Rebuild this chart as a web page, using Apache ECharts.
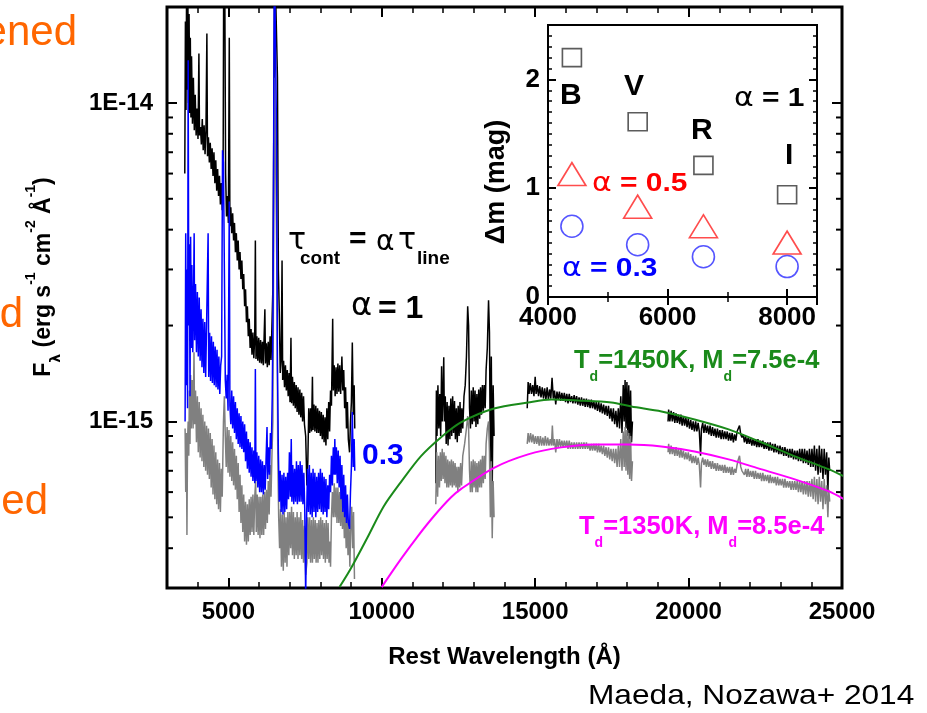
<!DOCTYPE html>
<html>
<head>
<meta charset="utf-8">
<script src="https://cdn.jsdelivr.net/npm/echarts@6/dist/echarts.min.js"></script>
<style>
  html, body { margin: 0; padding: 0; background: #fff; }
  #chart { width: 927px; height: 713px; }
</style>
</head>
<body>
<div id="chart"></div>
<script>
// wavelength in Angstrom, flux in units of 1e-15 erg s^-1 cm^-2 A^-1
const xMin = 3000, xMax = 25000
const yMin = 0.3, yMax = 20

// alpha = 1 (black)
const blackOptical = [
  [3580,6.0],[3600,18],[3620,9.5],[3640,25],[3660,11],[3680,22],[3700,10],[3720,19],[3740,9.3],[3760,16],
  [3780,9.0],[3800,14],[3830,8.6],[3860,12],[3890,8.2],[3920,10.6],[3950,7.9],[3980,9.6],[4010,7.7],[4040,14.3],
  [4060,7.9],[4090,8.4],[4120,7.4],[4150,8.9],[4180,7.1],[4210,8.5],[4240,6.9],[4270,8.2],[4300,16.5],[4320,6.8],
  [4350,7.8],[4380,6.5],[4410,7.5],[4440,6.2],[4470,7.2],[4500,5.9],[4530,7.0],[4560,5.6],[4590,6.6],[4620,5.3],
  [4650,6.2],[4680,5.1],[4710,5.9],[4740,4.8],[4770,5.6],[4800,4.6],[4830,6.5],[4850,30],[4880,28],[4910,6.0],
  [4940,4.4],[4970,5.1],[5000,4.2],[5030,16],[5050,4.1],[5080,4.7],[5110,3.9],[5140,4.5],[5170,3.7],[5200,4.2],
  [5230,3.4],[5260,3.9],[5290,3.2],[5320,3.7],[5350,3.0],[5380,3.4],[5410,2.8],[5440,3.2],[5470,2.6],[5500,2.9],
  [5530,2.3],[5560,2.6],[5590,2.05],[5620,2.3],[5650,1.85],[5680,2.1],[5710,1.7],[5740,1.95],[5770,1.62],[5800,1.9],
  [5830,1.58],[5860,1.85],[5880,3.7],[5900,1.57],[5930,1.85],[5960,1.55],[5990,1.83],[6020,1.53],[6050,1.8],[6080,1.52],
  [6110,1.78],[6140,1.5],[6190,2.25],[6210,1.52],[6240,1.76],[6270,1.48],[6300,1.78],[6330,1.5],[6360,1.85],[6390,1.56],
  [6420,2.0],[6450,2.6],[6480,8],[6510,30],[6560,30],[6600,12],[6630,3.0],[6660,2.2],[6690,1.42],[6720,1.55],
  [6750,3.2],[6770,1.35],[6800,1.55],[6830,1.28],[6860,1.5],[6890,1.25],[6920,1.45],[6950,1.2],[6980,1.42],[7010,1.15],
  [7040,1.83],[7060,1.14],[7090,1.38],[7120,1.12],[7150,1.33],[7180,1.1],[7210,1.3],[7240,1.07],[7270,1.28],[7300,1.05],
  [7330,1.26],[7360,1.03],[7390,1.23],[7420,1.0],[7450,1.2],[7480,0.98],[7520,0.9],[7560,0.63],[7590,0.75],[7620,1.1],
  [7650,0.92],[7680,1.1],[7710,0.93],[7740,1.38],[7760,0.94],[7790,1.13],[7820,0.93],[7850,1.12],[7880,0.92],[7910,1.1],
  [7940,0.92],[7970,1.08],[8000,0.9],[8030,1.07],[8060,0.88],[8090,1.05],[8120,0.86],[8150,1.03],[8180,0.84],[8210,1.1],
  [8240,0.88],[8270,1.15],[8300,0.93],[8330,1.25],[8360,1.12],[8400,2.1],[8420,1.25],[8450,1.5],[8480,1.2],[8510,1.48],
  [8540,1.22],[8570,1.52],[8600,1.24],[8630,1.5],[8660,1.22],[8700,1.6],[8730,1.25],[8760,1.45],[8790,1.1],[8820,1.28],
  [8850,0.95],[8880,1.15],[8910,0.88],[8950,0.8],[8980,1.0],[9010,1.15],[9040,1.77],[9070,1.05],[9100,1.3],[9120,0.95]
]
const blackJ = [
  [11760,0.64],[11780,1.25],[11800,0.9],[11830,1.3],[11860,0.95],[11890,1.22],[11920,0.9],[11950,1.49],[11970,1.0],[12000,1.25],
  [12020,1.59],[12040,1.0],[12070,1.2],[12100,0.85],[12130,1.15],[12160,0.84],[12190,1.12],[12220,0.88],[12250,1.18],[12280,0.9],
  [12310,1.2],[12340,0.92],[12370,1.16],[12400,0.88],[12430,1.1],[12460,0.86],[12490,1.12],[12520,0.9],[12550,1.15],[12580,0.92],
  [12610,1.1],[12640,0.95],[12680,1.2],[12720,1.3],[12760,1.6],[12800,2.3],[12830,2.0],[12860,1.1],[12890,0.95],[12920,1.25],
  [12950,0.98],[12980,1.28],[13010,1.0],[13040,1.25],[13070,0.96],[13100,1.22],[13130,0.98],[13160,1.26],[13190,1.02],[13220,1.28],
  [13250,1.05],[13280,1.3],[13310,1.08],[13340,1.3],[13370,1.1],[13400,1.45],[13440,1.7],[13480,2.4],[13510,1.9],[13540,0.7],
  [13570,1.6],[13600,0.62],[13630,1.3],[13660,0.9]
]
const blackH = [
  [14740,1.1],[14770,1.33],[14800,1.22],[14840,1.32],[14880,1.22],[14920,1.3],[14960,1.2],[15000,1.38],[15030,1.22],[15070,1.3],
  [15110,1.2],[15150,1.29],[15190,1.19],[15230,1.28],[15270,1.18],[15310,1.27],[15350,1.17],[15390,1.28],[15430,1.17],[15470,1.26],
  [15510,1.18],[15550,1.37],[15590,1.18],[15630,1.25],[15670,1.13],[15710,1.24],[15750,1.17],[15790,1.24],[15830,1.16],[15870,1.23],
  [15910,1.16],[15950,1.23],[15990,1.15],[16030,1.22],[16070,1.14],[16110,1.22],[16150,1.15],[16190,1.2],[16230,1.14],[16270,1.21],
  [16310,1.14],[16350,1.2],[16390,1.13],[16430,1.19],[16470,1.12],[16510,1.19],[16550,1.12],[16590,1.18],[16630,1.11],[16670,1.18],
  [16710,1.11],[16750,1.17],[16790,1.1],[16830,1.17],[16870,1.1],[16910,1.16],[16950,1.09],[16990,1.15],[17030,1.08],[17070,1.15],
  [17110,1.07],[17150,1.14],[17190,1.06],[17230,1.13],[17270,1.05],[17310,1.12],[17350,1.04],[17390,1.12],[17430,1.02],[17470,1.1],
  [17510,1.0],[17550,1.1],[17590,0.98],[17630,1.08],[17670,0.96],[17710,1.1],[17750,0.95],[17790,1.2],[17830,0.92],[17870,1.3],
  [17900,1.0],[17930,1.35],[17960,0.95],[17990,1.33],[18020,0.9],[18050,1.3],[18080,0.88],[18110,1.25],[18140,0.86],[18170,1.0]
]
const blackK = [
  [19330,1.0],[19350,1.09],[19390,1.0],[19430,1.08],[19470,1.0],[19510,1.07],[19550,0.99],[19590,1.06],[19630,0.99],[19670,1.05],
  [19710,0.98],[19750,1.05],[19790,0.97],[19830,1.04],[19870,0.97],[19910,1.03],[19950,0.96],[19990,1.02],[20030,0.95],[20070,1.01],
  [20110,0.94],[20150,1.0],[20190,0.93],[20230,1.0],[20270,0.93],[20310,0.99],[20350,0.93],[20390,0.78],[20420,0.95],[20460,0.99],
  [20500,0.92],[20540,0.98],[20580,0.92],[20620,0.97],[20660,0.91],[20700,0.97],[20740,0.9],[20780,0.96],[20820,0.9],[20860,0.95],
  [20900,0.89],[20940,0.95],[20980,0.89],[21020,0.94],[21060,0.88],[21100,0.94],[21140,0.88],[21180,0.93],[21220,0.88],[21260,0.93],
  [21300,0.87],[21340,0.92],[21380,0.87],[21420,0.92],[21460,0.86],[21500,0.91],[21540,0.87],[21580,0.93],[21620,0.95],[21660,0.97],
  [21700,0.91],[21740,0.89],[21780,0.91],[21820,0.86],[21860,0.9],[21900,0.85],[21940,0.89],[21980,0.85],[22020,0.89],[22060,0.84],
  [22100,0.88],[22140,0.84],[22180,0.88],[22220,0.83],[22260,0.88],[22300,0.83],[22340,0.87],[22380,0.83],[22420,0.87],[22460,0.82],
  [22500,0.86],[22540,0.82],[22580,0.86],[22620,0.81],[22660,0.86],[22700,0.81],[22740,0.85],[22780,0.8],[22820,0.85],[22860,0.8],
  [22900,0.84],[22940,0.79],[22980,0.84],[23020,0.79],[23060,0.83],[23100,0.78],[23140,0.83],[23180,0.78],[23220,0.82],[23260,0.77],
  [23300,0.82],[23340,0.77],[23380,0.82],[23420,0.76],[23460,0.81],[23500,0.76],[23540,0.81],[23580,0.75],[23620,0.82],[23660,0.75],
  [23700,0.82],[23740,0.74],[23780,0.82],[23820,0.74],[23860,0.81],[23900,0.73],[23940,0.82],[23980,0.72],[24020,0.82],[24060,0.72],
  [24100,0.84],[24140,0.7],[24180,0.82],[24220,0.68],[24260,0.84],[24300,0.69],[24340,0.82],[24380,0.66],[24420,0.82],[24460,0.68],
  [24500,0.8],[24540,0.6],[24570,0.77],[24600,0.7]
]

// alpha = 0.3 (blue)
const blueOptical = [
  [3590,1.0],[3610,3.9],[3630,1.3],[3650,3.0],[3670,1.1],[3690,13.6],[3710,2.0],[3730,3.6],[3750,1.2],[3770,3.8],
  [3790,1.7],[3810,3.1],[3840,1.65],[3870,2.8],[3885,3.9],[3900,1.8],[3930,2.7],[3960,1.65],[3990,2.55],[4020,1.6],
  [4050,2.45],[4080,1.55],[4110,2.25],[4140,1.48],[4170,2.1],[4200,1.42],[4230,2.05],[4260,1.38],[4290,2.0],[4340,3.9],
  [4360,1.38],[4390,1.9],[4420,1.34],[4450,1.85],[4480,1.32],[4510,1.78],[4540,1.3],[4570,1.72],[4600,1.28],[4630,1.68],
  [4660,1.26],[4690,1.6],[4720,1.22],[4750,1.5],[4780,1.6],[4810,7.1],[4840,6.5],[4870,3.0],[4900,1.35],[4930,1.18],
  [4960,1.4],[4990,1.08],[5030,4.9],[5050,1.12],[5080,0.98],[5110,1.25],[5140,0.95],[5170,1.2],[5200,0.92],[5230,1.15],
  [5260,0.88],[5290,1.1],[5320,0.85],[5350,1.06],[5380,0.83],[5410,1.04],[5440,0.82],[5470,1.0],[5500,0.8],[5530,0.98],
  [5560,0.75],[5590,0.93],[5620,0.71],[5650,0.88],[5680,0.69],[5710,0.86],[5740,0.67],[5770,0.83],[5800,0.65],[5830,0.81],
  [5860,0.64],[5880,1.46],[5900,0.65],[5930,0.8],[5960,0.62],[5990,0.78],[6020,0.6],[6050,0.76],[6080,0.6],[6110,0.75],
  [6140,0.59],[6170,0.73],[6200,0.61],[6230,0.77],[6260,0.96],[6280,0.66],[6310,0.83],[6340,0.68],[6370,0.92],[6400,0.82],
  [6430,1.2],[6460,2.5],[6480,10],[6500,30],[6540,30],[6570,8],[6600,1.5],[6630,0.8],[6660,0.56],[6690,0.7],
  [6720,0.52],[6750,0.68],[6780,0.51],[6810,0.69],[6840,0.52],[6870,0.67],[6900,0.53],[6930,0.69],[6960,0.57],[6990,0.8],
  [7020,0.58],[7050,0.88],[7070,0.56],[7100,0.73],[7130,0.55],[7160,0.71],[7190,0.56],[7220,0.75],[7250,0.55],[7280,0.73],
  [7310,0.56],[7340,0.75],[7370,0.56],[7400,0.73],[7430,0.55],[7460,0.69],[7490,0.53],[7520,0.28],[7550,0.5],[7580,0.71],
  [7610,0.52],[7640,0.73],[7670,0.51],[7700,0.69],[7730,0.5],[7760,0.71],[7790,0.52],[7820,0.69],[7850,0.5],[7880,0.67],
  [7910,0.52],[7940,0.69],[7970,0.53],[8000,0.71],[8030,0.52],[8060,0.69],[8090,0.51],[8120,0.67],[8150,0.52],[8180,0.66],
  [8210,0.5],[8240,0.63],[8270,0.53],[8300,0.68],[8330,0.6],[8360,0.78],[8390,0.63],[8420,0.83],[8450,0.68],[8470,0.88],
  [8490,0.68],[8520,0.83],[8550,0.64],[8580,0.81],[8610,0.62],[8640,0.78],[8670,0.57],[8700,0.73],[8730,0.52],[8760,0.68],
  [8790,0.5],[8820,0.63],[8850,0.48],[8880,0.59],[8910,0.48],[8950,0.46],[8980,0.6],[9010,0.72],[9040,1.07],[9070,0.72],
  [9100,0.88],[9120,0.7]
]

// grey spectrum
const grayOptical = [
  [3590,0.95],[3610,0.6],[3630,0.92],[3650,0.44],[3670,0.87],[3690,1.0],[3710,0.78],[3730,1.25],[3750,0.85],[3770,1.4],
  [3790,0.95],[3820,1.35],[3850,0.95],[3880,1.65],[3900,0.98],[3930,1.25],[3960,0.86],[3990,1.2],[4020,0.8],[4050,1.15],
  [4080,0.77],[4110,1.1],[4140,0.75],[4170,1.05],[4200,0.72],[4230,1.0],[4260,0.7],[4290,0.97],[4320,0.68],[4350,0.95],
  [4380,0.66],[4410,0.92],[4440,0.62],[4470,0.88],[4500,0.59],[4530,0.84],[4560,0.57],[4590,0.8],[4620,0.55],[4650,0.76],
  [4680,0.53],[4710,0.74],[4740,0.52],[4770,0.71],[4800,0.58],[4840,1.0],[4870,1.2],[4900,0.9],[4930,0.72],[4960,0.96],
  [4990,0.69],[5020,0.94],[5050,0.67],[5080,0.9],[5110,0.65],[5140,0.86],[5170,0.63],[5200,0.82],[5230,0.61],[5260,0.78],
  [5290,0.57],[5320,0.74],[5350,0.52],[5380,0.68],[5410,0.48],[5440,0.63],[5470,0.45],[5500,0.59],[5530,0.42],[5560,0.56],
  [5590,0.41],[5620,0.55],[5650,0.42],[5680,0.57],[5710,0.44],[5740,0.58],[5770,0.45],[5800,0.59],[5830,0.44],[5860,0.58],
  [5890,0.65],[5910,0.45],[5940,0.59],[5970,0.44],[6000,0.58],[6030,0.43],[6060,0.58],[6090,0.44],[6120,0.59],[6150,0.44],
  [6180,0.6],[6210,0.46],[6240,0.61],[6270,0.48],[6300,0.65],[6330,0.51],[6360,0.73],[6390,0.58],[6420,0.78],[6450,1.0],
  [6480,4],[6510,12],[6550,12],[6580,3],[6610,0.8],[6640,0.5],[6670,0.4],[6700,0.53],[6730,0.35],[6760,0.51],
  [6790,0.34],[6820,0.52],[6850,0.36],[6880,0.5],[6910,0.35],[6940,0.52],[6970,0.38],[7000,0.52],[7030,0.4],[7060,0.54],
  [7090,0.38],[7120,0.52],[7150,0.37],[7180,0.5],[7210,0.38],[7240,0.52],[7270,0.37],[7300,0.5],[7330,0.38],[7360,0.52],
  [7390,0.37],[7420,0.49],[7450,0.36],[7480,0.47],[7520,0.33],[7560,0.36],[7590,0.5],[7620,0.37],[7650,0.5],[7680,0.36],
  [7710,0.49],[7740,0.36],[7770,0.5],[7800,0.37],[7830,0.49],[7860,0.36],[7890,0.48],[7920,0.36],[7950,0.49],[7980,0.37],
  [8010,0.5],[8040,0.38],[8070,0.49],[8100,0.37],[8130,0.48],[8160,0.36],[8190,0.49],[8220,0.37],[8250,0.48],[8280,0.36],
  [8310,0.42],[8330,0.35],[8360,0.5],[8390,0.6],[8420,0.5],[8450,0.64],[8480,0.5],[8510,0.62],[8540,0.48],[8570,0.62],
  [8600,0.48],[8630,0.6],[8660,0.47],[8690,0.59],[8720,0.46],[8750,0.57],[8780,0.43],[8810,0.52],[8840,0.4],[8870,0.5],
  [8900,0.38],[8930,0.48],[8960,0.35],[8990,0.47],[9020,0.54],[9050,0.4],[9080,0.52],[9110,0.32]
]
const grayJ = [
  [11760,0.55],[11790,0.8],[11820,0.58],[11850,0.78],[11880,0.62],[11910,0.8],[11940,0.65],[11970,0.82],[12000,0.66],[12030,0.8],
  [12060,0.64],[12090,0.78],[12120,0.62],[12150,0.76],[12180,0.62],[12210,0.75],[12240,0.63],[12270,0.76],[12300,0.62],[12330,0.75],
  [12360,0.63],[12390,0.74],[12420,0.62],[12450,0.72],[12480,0.6],[12510,0.72],[12540,0.62],[12570,0.74],[12600,0.63],[12640,0.78],
  [12700,0.85],[12760,0.95],[12800,1.04],[12830,0.95],[12860,0.7],[12890,0.6],[12920,0.75],[12950,0.6],[12980,0.76],[13010,0.62],
  [13040,0.75],[13070,0.6],[13100,0.74],[13130,0.6],[13160,0.75],[13190,0.62],[13220,0.76],[13250,0.62],[13280,0.78],[13310,0.64],
  [13340,0.78],[13370,0.66],[13400,0.85],[13440,0.95],[13480,1.0],[13510,0.8],[13540,0.5],[13570,0.75],[13600,0.43],[13630,0.65],
  [13660,0.5]
]
const grayH = [
  [14740,0.85],[14770,0.92],[14810,0.86],[14850,0.92],[14890,0.86],[14930,0.91],[14970,0.85],[15010,0.9],[15050,0.85],[15090,0.9],
  [15130,0.84],[15170,0.9],[15210,0.84],[15250,0.89],[15290,0.84],[15330,0.9],[15370,0.84],[15410,0.89],[15450,0.84],[15490,0.88],
  [15530,0.84],[15560,0.97],[15590,0.84],[15630,0.88],[15670,0.8],[15710,0.88],[15750,0.83],[15790,0.88],[15830,0.83],[15870,0.87],
  [15910,0.83],[15950,0.87],[15990,0.83],[16030,0.87],[16070,0.82],[16110,0.87],[16150,0.82],[16190,0.86],[16230,0.82],[16270,0.86],
  [16310,0.82],[16350,0.86],[16390,0.82],[16430,0.86],[16470,0.82],[16510,0.86],[16550,0.82],[16590,0.86],[16630,0.82],[16670,0.86],
  [16710,0.82],[16750,0.85],[16790,0.81],[16830,0.85],[16870,0.81],[16910,0.85],[16950,0.81],[16990,0.85],[17030,0.8],[17070,0.85],
  [17110,0.8],[17150,0.84],[17190,0.79],[17230,0.84],[17270,0.78],[17310,0.83],[17350,0.77],[17390,0.83],[17430,0.76],[17470,0.82],
  [17510,0.75],[17550,0.82],[17590,0.74],[17630,0.82],[17670,0.72],[17710,0.84],[17750,0.72],[17790,0.88],[17830,0.7],[17870,0.93],
  [17900,0.72],[17930,0.96],[17960,0.7],[17990,0.94],[18020,0.68],[18050,0.92],[18080,0.66],[18110,0.9],[18140,0.65],[18170,0.75]
]
const grayK = [
  [19330,0.8],[19350,0.85],[19390,0.79],[19430,0.84],[19470,0.79],[19510,0.83],[19550,0.78],[19590,0.83],[19630,0.78],[19670,0.82],
  [19710,0.77],[19750,0.82],[19790,0.77],[19830,0.81],[19870,0.76],[19910,0.8],[19950,0.76],[19990,0.8],[20030,0.75],[20070,0.79],
  [20110,0.74],[20150,0.78],[20190,0.74],[20230,0.78],[20270,0.73],[20310,0.77],[20350,0.73],[20390,0.62],[20420,0.74],[20460,0.77],
  [20500,0.73],[20540,0.76],[20580,0.72],[20620,0.76],[20660,0.72],[20700,0.75],[20740,0.71],[20780,0.75],[20820,0.71],[20860,0.74],
  [20900,0.7],[20940,0.74],[20980,0.7],[21020,0.73],[21060,0.7],[21100,0.73],[21140,0.69],[21180,0.73],[21220,0.69],[21260,0.72],
  [21300,0.69],[21340,0.72],[21380,0.68],[21420,0.72],[21460,0.68],[21500,0.71],[21540,0.69],[21580,0.73],[21620,0.76],[21660,0.78],
  [21700,0.72],[21740,0.7],[21780,0.71],[21820,0.68],[21860,0.71],[21900,0.67],[21940,0.71],[21980,0.67],[22020,0.7],[22060,0.67],
  [22100,0.7],[22140,0.66],[22180,0.7],[22220,0.66],[22260,0.69],[22300,0.66],[22340,0.69],[22380,0.65],[22420,0.69],[22460,0.65],
  [22500,0.68],[22540,0.65],[22580,0.68],[22620,0.64],[22660,0.68],[22700,0.64],[22740,0.67],[22780,0.64],[22820,0.67],[22860,0.63],
  [22900,0.67],[22940,0.63],[22980,0.66],[23020,0.63],[23060,0.66],[23100,0.62],[23140,0.66],[23180,0.62],[23220,0.65],[23260,0.62],
  [23300,0.65],[23340,0.61],[23380,0.65],[23420,0.61],[23460,0.65],[23500,0.61],[23540,0.65],[23580,0.6],[23620,0.65],[23660,0.6],
  [23700,0.65],[23740,0.59],[23780,0.65],[23820,0.59],[23860,0.65],[23900,0.58],[23940,0.65],[23980,0.58],[24020,0.66],[24060,0.57],
  [24100,0.67],[24140,0.56],[24180,0.66],[24220,0.55],[24260,0.67],[24300,0.56],[24340,0.65],[24380,0.53],[24420,0.66],[24460,0.55],
  [24500,0.63],[24540,0.5],[24570,0.61],[24600,0.56]
]

// dust emission models
const dust1450 = [
  [8623,0.302],[8982,0.344],[9538,0.433],[10061,0.541],[10617,0.644],[11271,0.777],[11925,0.891],[12578,0.993],[13657,1.098],[14768,1.147],
  [15520,1.172],[16403,1.164],[17482,1.147],[18135,1.114],[19116,1.075],[20195,1.014],[21306,0.944],[22385,0.859],[23464,0.777],[24575,0.707],
  [25065,0.672]
]
const dust1350 = [
  [9996,0.302],[10617,0.369],[11172,0.436],[11696,0.504],[12251,0.577],[12578,0.613],[13657,0.715],[14768,0.788],[15847,0.829],[16926,0.847],
  [18037,0.847],[19116,0.835],[20195,0.805],[21306,0.76],[22385,0.707],[23464,0.658],[24575,0.603],[25065,0.57]
]

// inset: extra extinction per band
const bandWave = [4400, 5500, 6600, 8000]
const dmAlpha1 = [2.20, 1.61, 1.21, 0.94]
const dmAlpha05 = [1.13, 0.83, 0.65, 0.50]
const dmAlpha03 = [0.65, 0.48, 0.37, 0.28]

const logMinorTicks = [0.4, 0.5, 0.6, 0.7, 0.8, 0.9, 2, 3, 4, 5, 6, 7, 8, 9]

const font = 'Liberation Sans'
const greek = 'DejaVu Sans'
const green = '#1a8a1a'
const magenta = '#ff00ff'
const blue = '#0000ff'
const orange = '#ff6600'

const bold = (size, color) => ({ fontFamily: font, fontWeight: 'bold', fontSize: size, color: color || '#000' })

const tickAxis = (grid, position, min, max, interval, length, extra) => Object.assign({
  gridIndex: grid,
  type: 'value',
  position,
  min,
  max,
  interval,
  axisLine: { show: false },
  splitLine: { show: false },
  axisTick: { inside: true, length, lineStyle: { color: '#000', width: length > 6 ? 2 : 1.5 } },
  axisLabel: { show: false }
}, extra || {})

const logAxis = (position, extra) => Object.assign({
  gridIndex: 0,
  type: 'log',
  logBase: 10,
  position,
  min: yMin,
  max: yMax,
  axisLine: { show: false },
  splitLine: { show: false },
  axisTick: { inside: true, length: 10, lineStyle: { color: '#000', width: 2 } },
  axisLabel: { show: false }
}, extra || {})

const spectrum = (data, color) => ({
  type: 'line',
  xAxisIndex: 0,
  yAxisIndex: 0,
  data,
  symbol: 'none',
  showSymbol: false,
  silent: true,
  animation: false,
  lineStyle: { color, width: 1.5 }
})

const model = (data, color) => ({
  type: 'line',
  xAxisIndex: 0,
  yAxisIndex: 0,
  data,
  smooth: 0.3,
  symbol: 'none',
  showSymbol: false,
  silent: true,
  animation: false,
  z: 3,
  lineStyle: { color, width: 2 }
})

const marker = (values, symbol, size, color) => ({
  type: 'scatter',
  xAxisIndex: 4,
  yAxisIndex: 2,
  data: bandWave.map((w, i) => [w, values[i]]),
  symbol,
  symbolSize: size,
  silent: true,
  animation: false,
  itemStyle: { color: 'rgba(0,0,0,0)', borderColor: color, borderWidth: 1.6 }
})

const label = (text, x, y, style, extra) => Object.assign({
  type: 'text', x, y, silent: true,
  style: Object.assign({ text, align: 'left', verticalAlign: 'middle', fill: '#000' }, style)
}, extra || {})

const plain = (size, fill, family, weight) => ({ fontFamily: family || font, fontSize: size, fontWeight: weight || 'normal', fill: fill || '#000' })

const alphaRich = (fill, size) => ({
  a: { fontFamily: greek, fontSize: size, fill },
  b: { fontFamily: font, fontWeight: 'bold', fontSize: size, fill }
})

const subRich = (fill) => ({
  m: { fontFamily: font, fontWeight: 'bold', fontSize: 25.5, lineHeight: 26, fill, verticalAlign: 'top' },
  s: { fontFamily: font, fontWeight: 'bold', fontSize: 14, lineHeight: 14, padding: [22, 0, 0, 0], fill, verticalAlign: 'top' }
})

const chart = echarts.init(document.getElementById('chart'))

const option = {
  animation: false,
  backgroundColor: '#fff',
  grid: [
    { left: 167, top: 7, right: 85, bottom: 125, show: true, borderColor: '#000', borderWidth: 3, outerBoundsMode: 'none' },
    { left: 548, top: 25, right: 110, bottom: 416, show: true, borderColor: '#000', borderWidth: 2, backgroundColor: '#fff', outerBoundsMode: 'none' }
  ],
  xAxis: [
    tickAxis(0, 'bottom', xMin, xMax, 1000, 6, {
      axisLabel: Object.assign(bold(24), { margin: 12, formatter: (v) => (v % 5000 === 0 ? String(v) : '') }),
      name: 'Rest Wavelength (Å)',
      nameLocation: 'middle',
      nameGap: 57,
      nameTextStyle: bold(24)
    }),
    tickAxis(0, 'bottom', xMin, xMax, undefined, 10),
    tickAxis(0, 'top', xMin, xMax, 1000, 6),
    tickAxis(0, 'top', xMin, xMax, undefined, 10),
    tickAxis(1, 'bottom', 4000, 8500, 1000, 5, {
      axisLabel: Object.assign(bold(26), { margin: 8, formatter: (v) => (v % 2000 === 0 ? String(v) : '') })
    }),
    tickAxis(1, 'bottom', 4000, 8500, 2000, 8),
    tickAxis(1, 'top', 4000, 8500, 1000, 5),
    tickAxis(1, 'top', 4000, 8500, 2000, 8)
  ],
  yAxis: [
    logAxis('left', {
      axisLabel: Object.assign(bold(24), {
        margin: 14,
        formatter: (v) => (Math.abs(v - 10) < 1e-6 ? '1E-14' : Math.abs(v - 1) < 1e-6 ? '1E-15' : '')
      })
    }),
    logAxis('right'),
    tickAxis(1, 'left', 0, 2.5, 0.1, 4, {
      axisLabel: Object.assign(bold(26), {
        margin: 8,
        formatter: (v) => (Math.abs(v - Math.round(v)) < 1e-6 ? String(Math.round(v)) : '')
      })
    }),
    tickAxis(1, 'left', 0, 2.5, 1, 8),
    tickAxis(1, 'right', 0, 2.5, 0.1, 4),
    tickAxis(1, 'right', 0, 2.5, 1, 8)
  ],
  series: [
    spectrum(blackOptical, '#000'),
    spectrum(blackJ, '#000'),
    spectrum(blackH, '#000'),
    spectrum(blackK, '#000'),
    spectrum(grayOptical, '#808080'),
    spectrum(grayJ, '#808080'),
    spectrum(grayH, '#808080'),
    spectrum(grayK, '#808080'),
    spectrum(blueOptical, blue),
    model(dust1450, green),
    model(dust1350, magenta),
    // minor ticks of the log axis, on both sides
    {
      type: 'custom',
      xAxisIndex: 0,
      yAxisIndex: 0,
      silent: true,
      animation: false,
      clip: false,
      data: logMinorTicks.map((v) => [xMin, v]),
      renderItem: (params, api) => {
        const l = api.coord([xMin, api.value(1)])
        const r = api.coord([xMax, api.value(1)])
        return {
          type: 'group',
          children: [
            { type: 'line', shape: { x1: l[0], y1: l[1], x2: l[0] + 6, y2: l[1] }, style: { stroke: '#000', lineWidth: 2 } },
            { type: 'line', shape: { x1: r[0] - 6, y1: r[1], x2: r[0], y2: r[1] }, style: { stroke: '#000', lineWidth: 2 } }
          ]
        }
      }
    },
    marker(dmAlpha1, 'rect', [19, 18], '#333'),
    marker(dmAlpha05, 'triangle', [28, 23], '#ff2020'),
    marker(dmAlpha03, 'circle', 22, '#2a2aff')
  ],
  graphic: [
    // slide text cut by the left edge
    label('ened', 77, 33, Object.assign(plain(42, orange), { align: 'right' })),
    label('d', 23, 315, Object.assign(plain(42, orange), { align: 'right' })),
    label('ed', 48, 502, Object.assign(plain(42, orange), { align: 'right' })),
    label('Maeda, Nozawa+ 2014', 588, 696, plain(28), { scaleX: 1.13 }),

    // y axis title
    {
      type: 'text', x: 36, y: 277, rotation: Math.PI / 2, silent: true,
      style: {
        text: '{m|F}{b|λ}{m| (erg s}{p|-1}{m| cm}{p|-2}{m| Å}{p|-1}{m|)}',
        align: 'center', verticalAlign: 'middle', fill: '#000',
        rich: {
          m: { fontFamily: font, fontWeight: 'bold', fontSize: 23, lineHeight: 24, padding: [8, 0, 0, 0], verticalAlign: 'top', fill: '#000' },
          p: { fontFamily: font, fontWeight: 'bold', fontSize: 14, lineHeight: 10, verticalAlign: 'top', fill: '#000' },
          b: { fontFamily: greek, fontWeight: 'bold', fontSize: 14, lineHeight: 14, padding: [25, 0, 0, 0], verticalAlign: 'top', fill: '#000' }
        }
      }
    },

    // tau_cont = alpha tau_line
    label('τ', 288, 241, plain(30, '#000', greek)),
    label('cont', 300, 259, plain(19, '#000', font, 'bold')),
    label('=', 349, 240, plain(30, '#000', font, 'bold')),
    label('α', 376, 243, plain(28, '#000', greek)),
    label('τ', 398, 241, plain(30, '#000', greek)),
    label('line', 417, 259, plain(19, '#000', font, 'bold')),
    label('α', 351, 307, plain(32, '#000', greek)),
    label('= 1', 378, 309, plain(32, '#000', font, 'bold')),
    label('0.3', 362, 456, plain(30, blue, font, 'bold')),

    // dust model labels
    label('{m|T}{s|d}{m|=1450K, M}{s|d}{m|=7.5e-4}', 574, 348, { verticalAlign: 'top', fill: green, rich: subRich(green) }),
    label('{m|T}{s|d}{m|=1350K, M}{s|d}{m|=8.5e-4}', 579, 514, { verticalAlign: 'top', fill: magenta, rich: subRich(magenta) }),

    // inset annotations
    {
      type: 'text', x: 497, y: 182, rotation: Math.PI / 2, silent: true,
      style: { text: 'Δm (mag)', align: 'center', verticalAlign: 'middle', fontFamily: font, fontWeight: 'bold', fontSize: 27, fill: '#000' }
    },
    label('B', 560, 96, plain(30, '#000', font, 'bold')),
    label('V', 624, 87, plain(30, '#000', font, 'bold')),
    label('R', 691, 131, plain(30, '#000', font, 'bold')),
    label('I', 785, 156, plain(30, '#000', font, 'bold')),
    label('{a|α}{b| = 1}', 734, 99, { rich: alphaRich('#000', 26) }, { scaleX: 1.15 }),
    label('{a|α}{b| = 0.5}', 592, 184, { fill: '#ff0000', rich: alphaRich('#ff0000', 26) }, { scaleX: 1.15 }),
    label('{a|α}{b| = 0.3}', 562, 269, { fill: blue, rich: alphaRich(blue, 26) }, { scaleX: 1.15 })
  ]
}

chart.setOption(option)
</script>
</body>
</html>
